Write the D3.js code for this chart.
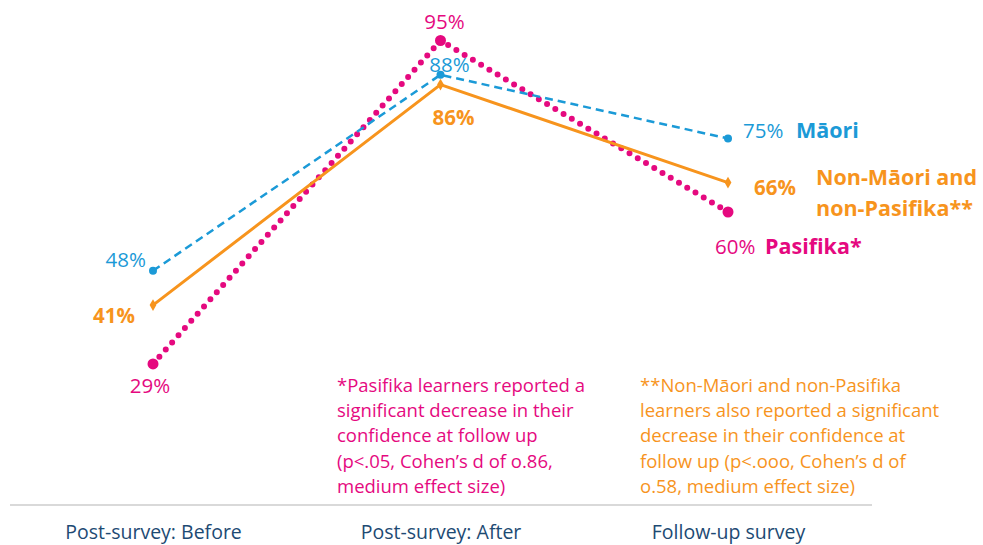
<!DOCTYPE html>
<html>
<head>
<meta charset="utf-8">
<script src="https://cdn.jsdelivr.net/npm/d3@7"></script>
<style>
  body { margin: 0; background: #fff; }
  text { font-family: "Open Sans", Lato, sans-serif; }
</style>
</head>
<body>
<svg id="chart" width="983" height="545"></svg>
<script>
const categories = ['Post-survey: Before', 'Post-survey: After', 'Follow-up survey'];
const maori = [48, 88, 75];
const nonMaori = [41, 86, 66];
const pasifika = [29, 95, 60];

const pasifikaNote = ['*Pasifika learners reported a', 'significant decrease in their',
  'confidence at follow up', '(p<.05, Cohen\u2019s d of o.86,', 'medium effect size)'];
const otherNote = ['**Non-M\u0101ori and non-Pasifika', 'learners also reported a significant',
  'decrease in their confidence at', 'follow up (p<.ooo, Cohen\u2019s d of', 'o.58, medium effect size)'];

const blue = '#1b9ad7', orange = '#f7941d', pink = '#e5097f', navy = '#1d4a73';

const svg = d3.select('#chart');

let x = d3.scalePoint().domain(categories).range([153, 728]);
let y = d3.scaleLinear().domain([0, 100]).range([506, 16]);

// baseline axis
let axis = d3.axisBottom(x).tickSize(0).tickPadding(20);
let gx = svg.append('g').attr('transform', 'translate(0,505)').call(axis);
gx.select('.domain').remove();
gx.selectAll('text').attr('fill', navy).style('font-size', '19.5px')
  .style('font-family', '"Open Sans", sans-serif');
svg.append('line').attr('x1', 10).attr('x2', 872).attr('y1', 505).attr('y2', 505)
  .attr('stroke', '#d9d9d9').attr('stroke-width', 2);

let line = d3.line().x((d, i) => x(categories[i])).y(d => y(d));

// Pasifika dotted
svg.append('path').datum(pasifika).attr('d', line)
  .attr('fill', 'none').attr('stroke', pink).attr('stroke-width', 6)
  .attr('stroke-linecap', 'round').attr('stroke-dasharray', '0,9.6');
svg.selectAll('.pdot').data(pasifika).enter().append('circle')
  .attr('cx', (d, i) => x(categories[i])).attr('cy', d => y(d)).attr('r', 5.5).attr('fill', pink);

// Maori dashed
svg.append('path').datum(maori).attr('d', line)
  .attr('fill', 'none').attr('stroke', blue).attr('stroke-width', 2.5)
  .attr('stroke-dasharray', '8,5');
svg.selectAll('.mdot').data(maori).enter().append('circle')
  .attr('cx', (d, i) => x(categories[i])).attr('cy', d => y(d)).attr('r', 4).attr('fill', blue);

// Non-Maori solid
svg.append('path').datum(nonMaori).attr('d', line)
  .attr('fill', 'none').attr('stroke', orange).attr('stroke-width', 3);
svg.selectAll('.odot').data(nonMaori).enter().append('path')
  .attr('d', d3.symbol().type(d3.symbolDiamond).size(40))
  .attr('transform', (d, i) => 'translate(' + x(categories[i]) + ',' + y(d) + ')')
  .attr('fill', orange);

// value labels
let label = (txt, px, py, color, anchor, bold) => svg.append('text')
  .attr('x', px).attr('y', py).attr('fill', color).attr('text-anchor', anchor)
  .style('font-size', '20.5px').style('font-weight', bold ? 700 : 400).text(txt);

let xb = x(categories[0]), xa = x(categories[1]), xf = x(categories[2]);
label(pasifika[1] + '%', xa + 4, y(pasifika[1]) - 12, pink, 'middle', false);
label(maori[1] + '%', xa + 9, y(maori[1]) - 3, blue, 'middle', false);
label(nonMaori[1] + '%', xa + 13, y(nonMaori[1]) + 40, orange, 'middle', true);
label(maori[0] + '%', xb - 7, y(maori[0]) - 4, blue, 'end', false);
label(nonMaori[0] + '%', xb - 18, y(nonMaori[0]) + 18, orange, 'end', true);
label(pasifika[0] + '%', xb - 3, y(pasifika[0]) + 29, pink, 'middle', false);
label(maori[2] + '%', xf + 15, y(maori[2]) - 1, blue, 'start', false);
label(nonMaori[2] + '%', xf + 26, y(nonMaori[2]) + 12, orange, 'start', true);
label(pasifika[2] + '%', xf - 13, y(pasifika[2]) + 42, pink, 'start', false);

// series names
let nameSize = '21.5px';
label('M\u0101ori', xf + 68, y(maori[2]) - 1, blue, 'start', true).style('font-size', nameSize);
label('Non-M\u0101ori and', xf + 88, y(nonMaori[2]) + 2, orange, 'start', true).style('font-size', nameSize);
label('non-Pasifika**', xf + 88, y(nonMaori[2]) + 33, orange, 'start', true).style('font-size', nameSize);
label('Pasifika*', xf + 37, y(pasifika[2]) + 42, pink, 'start', true).style('font-size', nameSize);

// footnotes
let note = (lines, px, color) => {
  let t = svg.append('text').attr('x', px).attr('y', 392).attr('fill', color).style('font-size', '18.5px');
  t.selectAll('tspan').data(lines).enter().append('tspan')
    .attr('x', px).attr('dy', (d, i) => i === 0 ? 0 : 25.2).text(d => d);
};
note(pasifikaNote, 337, pink);
note(otherNote, 640, orange);
</script>
</body>
</html>
